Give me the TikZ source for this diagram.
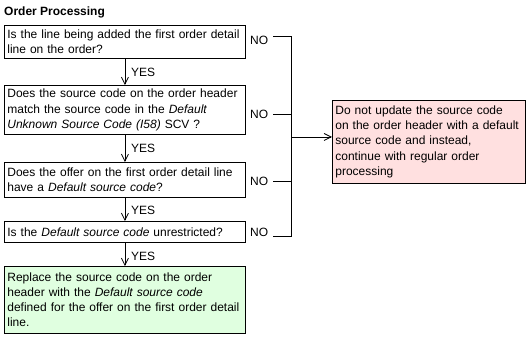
\documentclass[tikz,border=0pt]{standalone}
\usepackage{fontspec}
\setmainfont{Liberation Sans}
\usetikzlibrary{arrows.meta}
\definecolor{actgreen}{RGB}{224,255,224}
\definecolor{stopred}{RGB}{255,224,224}
\newcommand{\fsz}{\fontsize{12}{15.2}\selectfont}
\begin{document}
\begin{tikzpicture}[x=1pt,y=-1pt,
  qbox/.style={draw=black, line width=0.8pt, anchor=north west, inner xsep=3pt, inner ysep=1pt,
    align=left, text width=235pt, minimum width=241pt, font=\fsz},
  lbl/.style={inner sep=0pt, font=\fsz},
  arr/.style={line width=0.8pt, -{Straight Barb[length=7pt,width=7pt,line width=0.8pt]}},
  wire/.style={line width=0.8pt}]
\useasboundingbox (0,0) rectangle (531,339);
\node[anchor=west, inner sep=0pt, font=\fsz\bfseries] (title) at (4,12) {Order Processing};

\node[qbox, minimum height=33pt] (q1) at (4,25)
  {Is the line being added the first order detail\\line on the order?};
\node[qbox, minimum height=49pt] (q2) at (4,85)
  {Does the source code on the order header\\match the source code in the \textit{Default}\\\textit{Unknown Source Code (I58)} SCV ?};
\node[qbox, minimum height=35pt] (q3) at (4,162)
  {Does the offer on the first order detail line\\have a \textit{Default source code}?};
\node[qbox, minimum height=21pt] (q4) at (4,221)
  {Is the \textit{Default source code} unrestricted?};
\node[qbox, fill=actgreen, minimum height=67pt] (act) at (4,266)
  {Replace the source code on the order\\header with the \textit{Default source code}\\defined for the offer on the first order detail\\line.};
\node[qbox, fill=stopred, text width=187pt, minimum width=193pt, minimum height=83pt] (stop) at (332,100)
  {Do not update the source code\\on the order header with a default\\source code and instead,\\continue with regular order\\processing};

\draw[arr] (q1.south) -- (q2.north);
\draw[arr] (q2.south) -- (q3.north);
\draw[arr] (q3.south) -- (q4.north);
\draw[arr] (q4.south) -- (act.north);
\node[lbl, anchor=west] (y1) at (131,72) {YES};
\node[lbl, anchor=west] (y2) at (131,148) {YES};
\node[lbl, anchor=west] (y3) at (131,210) {YES};
\node[lbl, anchor=west] (y4) at (131,256) {YES};

\node[lbl, anchor=west] (n1) at (250,40) {NO};
\node[lbl, anchor=west] (n2) at (250,114) {NO};
\node[lbl, anchor=west] (n3) at (250,181) {NO};
\node[lbl, anchor=west] (n4) at (250,232) {NO};

\coordinate (t1) at (273,36);
\coordinate (t2) at (273,114);
\coordinate (t3) at (273,181);
\coordinate (t4) at (273,236);
\coordinate (b1) at (291,36);
\coordinate (b2) at (291,114);
\coordinate (b3) at (291,181);
\coordinate (b4) at (291,236);
\coordinate (bm) at (291,137);
\draw[wire] (t1) -- (b1) -- (b4) -- (t4);
\draw[wire] (t2) -- (b2);
\draw[wire] (t3) -- (b3);
\draw[arr] (bm) -- (bm -| stop.west);
\end{tikzpicture}
\end{document}
